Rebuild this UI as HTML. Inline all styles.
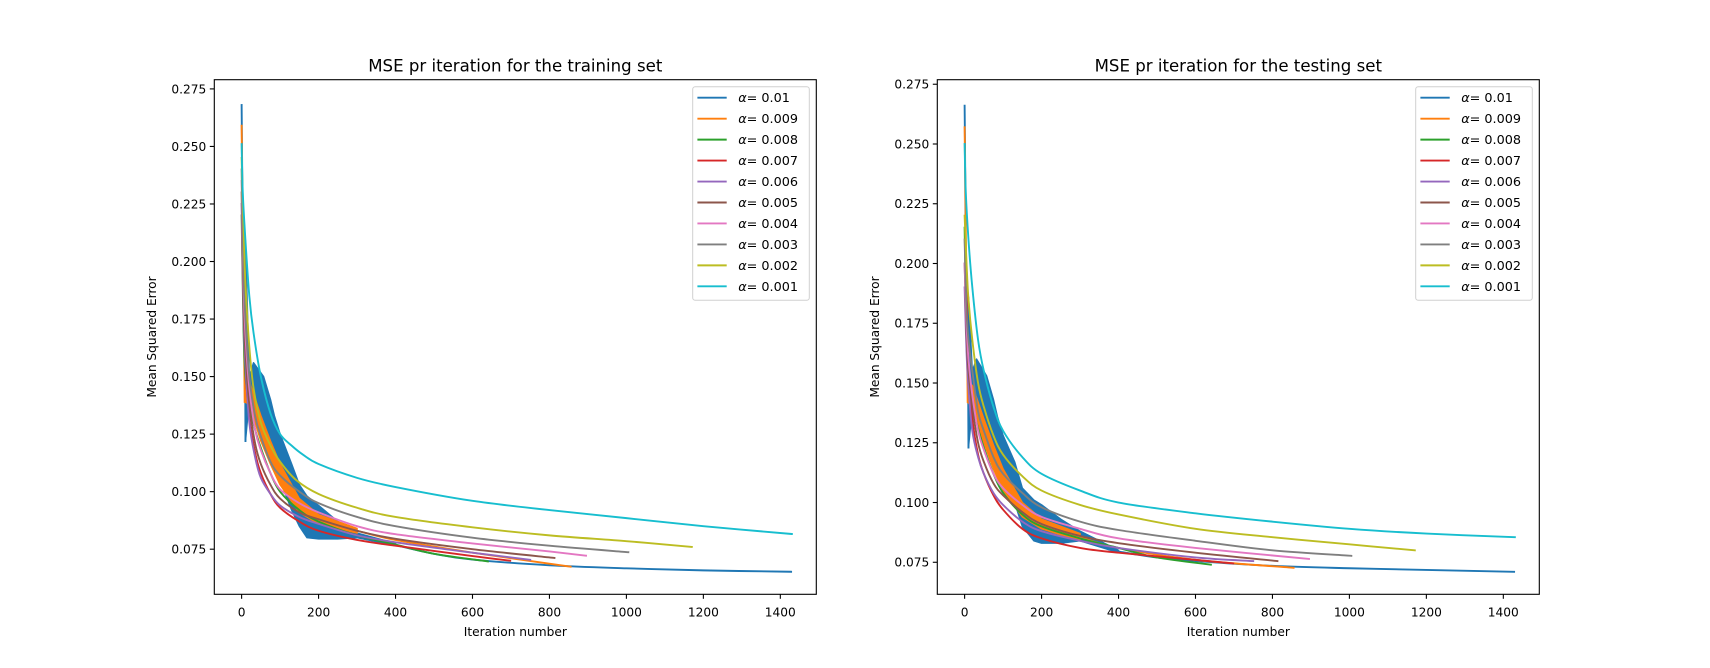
<!DOCTYPE html>
<html><head><meta charset="utf-8"><style>
html,body{margin:0;padding:0;background:#fff;}
svg{display:block;font-family:"DejaVu Sans","Liberation Sans",sans-serif;}
</style></head><body>
<svg id="fig" width="1710" height="668" viewBox="0 0 1710 668" xmlns="http://www.w3.org/2000/svg"></svg>
<script>
// ---------- data: training set ----------
const trX1 = [0,1,3,8,10];            const trY1 = [0.268,0.25,0.20,0.208,0.122];
const trBandX1 = [10,20,31,57,75,85,100,130,150,170,200,250,300,400];
const trHi1 = [0.208,0.150,0.156,0.150,0.140,0.133,0.125,0.112,0.103,0.098,0.094,0.087,0.082,0.0775];
const trLo1 = [0.122,0.140,0.135,0.128,0.118,0.112,0.105,0.092,0.085,0.080,0.0795,0.0795,0.080,0.0765];
const trTailX1 = [400,500,600,800,1000,1200,1428]; const trTailY1 = [0.0768,0.073,0.0705,0.068,0.0667,0.0658,0.0652];
const trX2 = [0,8];                    const trY2 = [0.259,0.139];
const trBandX2 = [8,20,50,75,100,150,200,300];
const trHi2 = [0.150,0.148,0.133,0.122,0.112,0.097,0.090,0.084];
const trLo2 = [0.139,0.138,0.122,0.112,0.103,0.091,0.086,0.082];
const trTailX2 = [300,400,600,855];     const trTailY2 = [0.083,0.079,0.0735,0.0674];
const trX3 = [0,5,10,20,35,50,75,100,150,200,300,400,500,640]; const trY3 = [0.22,0.17,0.15,0.138,0.127,0.119,0.108,0.100,0.092,0.087,0.081,0.077,0.073,0.0697];
const trX4 = [5,10,20,35,50,75,100,150,200,300,400,600,698]; const trY4 = [0.20,0.155,0.132,0.117,0.108,0.099,0.093,0.087,0.083,0.079,0.0765,0.072,0.070];
const trX5 = [0,5,10,20,35,50,75,100,150,200,300,400,600,750]; const trY5 = [0.225,0.175,0.155,0.13,0.115,0.106,0.099,0.094,0.089,0.086,0.081,0.078,0.0735,0.0704];
const trX6 = [0,5,10,20,35,50,75,100,150,200,300,400,600,813]; const trY6 = [0.23,0.18,0.16,0.138,0.121,0.112,0.103,0.097,0.091,0.088,0.083,0.0795,0.075,0.0712];
const trX7 = [0,5,10,20,35,50,75,100,150,200,300,400,600,800,895]; const trY7 = [0.235,0.19,0.168,0.145,0.127,0.118,0.108,0.101,0.095,0.091,0.085,0.0815,0.0775,0.074,0.0722];
const trX8 = [0,5,10,20,35,50,75,100,150,200,300,400,600,800,1005]; const trY8 = [0.24,0.195,0.175,0.15,0.133,0.124,0.113,0.107,0.100,0.095,0.089,0.085,0.080,0.0765,0.0737];
const trX9 = [0,5,10,20,31,50,75,100,142,200,300,400,600,800,1000,1170]; const trY9 = [0.245,0.215,0.19,0.163,0.145,0.13,0.12,0.113,0.105,0.099,0.093,0.089,0.0845,0.081,0.0785,0.076];
const trX10 = [0,3,10,20,31,50,75,100,130,160,200,300,400,600,800,1000,1200,1430]; const trY10 = [0.251,0.23,0.209,0.185,0.169,0.15,0.134,0.125,0.12,0.116,0.112,0.106,0.102,0.096,0.092,0.0885,0.085,0.0816];
// ---------- data: testing set ----------
const teX1 = [0,1,3,8,10];            const teY1 = [0.266,0.25,0.20,0.186,0.123];
const teBandX1 = [10,20,31,57,75,85,100,130,150,180,200,250,300,400];
const teHi1 = [0.186,0.155,0.160,0.153,0.143,0.136,0.128,0.117,0.106,0.101,0.099,0.093,0.088,0.080];
const teLo1 = [0.123,0.140,0.137,0.130,0.121,0.116,0.110,0.100,0.090,0.084,0.083,0.083,0.084,0.079];
const teTailX1 = [400,500,600,800,1000,1200,1428]; const teTailY1 = [0.0795,0.077,0.0755,0.0735,0.0725,0.0718,0.071];
const teX2 = [0,8];                    const teY2 = [0.257,0.142];
const teBandX2 = [8,20,50,75,100,150,200,300];
const teHi2 = [0.150,0.149,0.135,0.124,0.114,0.100,0.093,0.087];
const teLo2 = [0.142,0.140,0.125,0.114,0.105,0.094,0.089,0.084];
const teTailX2 = [300,400,600,855];     const teTailY2 = [0.0855,0.081,0.076,0.0727];
const teX3 = [0,5,10,20,35,50,75,100,150,200,300,400,500,640]; const teY3 = [0.215,0.172,0.155,0.142,0.131,0.123,0.112,0.104,0.095,0.09,0.085,0.081,0.077,0.074];
const teX4 = [5,10,20,35,50,75,100,150,200,300,400,600,698]; const teY4 = [0.19,0.155,0.135,0.12,0.112,0.103,0.097,0.089,0.085,0.081,0.079,0.076,0.0745];
const teX5 = [0,5,10,20,35,50,75,100,150,200,300,400,600,750]; const teY5 = [0.19,0.163,0.148,0.13,0.119,0.112,0.104,0.099,0.092,0.088,0.084,0.081,0.077,0.0755];
const teX6 = [0,5,10,20,35,50,75,100,150,200,300,400,600,813]; const teY6 = [0.20,0.17,0.155,0.14,0.125,0.117,0.108,0.103,0.096,0.091,0.086,0.083,0.079,0.0755];
const teX7 = [0,5,10,20,35,50,75,100,150,200,300,400,600,895]; const teY7 = [0.20,0.175,0.16,0.145,0.13,0.122,0.112,0.106,0.099,0.094,0.089,0.085,0.081,0.0764];
const teX8 = [0,5,10,20,35,50,75,100,150,200,300,400,600,800,1005]; const teY8 = [0.21,0.18,0.168,0.155,0.138,0.13,0.119,0.112,0.104,0.098,0.092,0.0885,0.084,0.080,0.0777];
const teX9 = [0,5,10,20,35,50,75,100,150,200,300,400,600,800,1000,1170]; const teY9 = [0.22,0.2,0.185,0.168,0.15,0.14,0.128,0.12,0.111,0.105,0.099,0.095,0.089,0.0855,0.0825,0.080];
const teX10 = [0,3,10,20,35,50,75,100,150,200,300,400,600,800,1000,1200,1430]; const teY10 = [0.25,0.23,0.21,0.19,0.168,0.155,0.14,0.13,0.119,0.112,0.105,0.10,0.0955,0.092,0.089,0.087,0.0855];

const labels = ["0.01","0.009","0.008","0.007","0.006","0.005","0.004","0.003","0.002","0.001"];
const colors = ["#1f77b4","#ff7f0e","#2ca02c","#d62728","#9467bd","#8c564b","#e377c2","#7f7f7f","#bcbd22","#17becf"];
const xTicks = [0,200,400,600,800,1000,1200,1400];
const yTicks = [0.075,0.100,0.125,0.150,0.175,0.200,0.225,0.250,0.275];

const NS = "http://www.w3.org/2000/svg";
const svg = document.getElementById('fig');
function mk(tag, attrs, parent){const e=document.createElementNS(NS,tag);for(const k in attrs)e.setAttribute(k,attrs[k]);(parent||svg).appendChild(e);return e;}
function smooth(P){
  if(P.length<3) return 'M'+P.map(p=>p[0].toFixed(2)+','+p[1].toFixed(2)).join(' L');
  let d='M'+P[0][0].toFixed(2)+','+P[0][1].toFixed(2);
  for(let i=0;i<P.length-1;i++){
    const p0=P[i-1]||P[i], p1=P[i], p2=P[i+1], p3=P[i+2]||P[i+1];
    let c1=[p1[0]+(p2[0]-p0[0])/6, p1[1]+(p2[1]-p0[1])/6];
    let c2=[p2[0]-(p3[0]-p1[0])/6, p2[1]-(p3[1]-p1[1])/6];
    const lo=Math.min(p1[1],p2[1]), hi=Math.max(p1[1],p2[1]);
    c1[1]=Math.min(hi,Math.max(lo,c1[1])); c2[1]=Math.min(hi,Math.max(lo,c2[1]));
    d+=' C'+c1[0].toFixed(2)+','+c1[1].toFixed(2)+' '+c2[0].toFixed(2)+','+c2[1].toFixed(2)+' '+p2[0].toFixed(2)+','+p2[1].toFixed(2);
  }
  return d;
}

function drawPanel(p){
  const g = mk('g',{});
  
  
  const xs = v => p.x0 + (v - p.xmin)/(p.xmax - p.xmin)*(p.x1 - p.x0);
  const ys = v => p.y1 - (v - p.ymin)/(p.ymax - p.ymin)*(p.y1 - p.y0);
  const P = (X,Y) => X.map((x,i)=>[xs(x),ys(Y[i])]);
  const pts = (X,Y) => X.map((x,i)=>xs(x).toFixed(2)+','+ys(Y[i]).toFixed(2)).join(' ');
  const clip = mk('clipPath',{id:p.name+'-clip'},g);
  mk('rect',{x:p.x0,y:p.y0,width:p.x1-p.x0,height:p.y1-p.y0},clip);
  const plot = mk('g',{'clip-path':'url(#'+p.name+'-clip)'},g);
  p.series.forEach((s,i)=>{
    const sg = mk('g',{},plot);
    
    
    const st = {fill:'none',stroke:colors[i],'stroke-width':1.9,'stroke-linejoin':'round','stroke-linecap':'square'};
    if(s.bx){
      mk('polyline',Object.assign({points:pts(s.x,s.y)},st),sg);
      const poly = pts(s.bx,s.hi)+' '+pts(s.bx.slice().reverse(),s.lo.slice().reverse());
      mk('polygon',{points:poly,fill:colors[i],stroke:colors[i],'stroke-width':1.5,'stroke-linejoin':'round'},sg);
      mk('path',Object.assign({d:smooth(P(s.tx,s.ty))},st),sg);
    } else {
      mk('path',Object.assign({d:smooth(P(s.x,s.y))},st),sg);
    }
  });
  mk('rect',{x:p.x0,y:p.y0,width:p.x1-p.x0,height:p.y1-p.y0,fill:'none',stroke:'#000','stroke-width':1.1},g);
  xTicks.forEach(t=>{
    const X = xs(t);
    const tk = mk('line',{x1:X,x2:X,y1:p.y1,y2:p.y1+4.5,stroke:'#000','stroke-width':1.1},g);
    
    
    const tl = mk('text',{x:X,y:p.y1+22,'text-anchor':'middle','font-size':12.2,fill:'#000'},g);
    tl.textContent = t;
    
    
  });
  yTicks.forEach(t=>{
    const Y = ys(t);
    mk('line',{x1:p.x0-4.5,x2:p.x0,y1:Y,y2:Y,stroke:'#000','stroke-width':1.1},g);
    const tl = mk('text',{x:p.x0-8,y:Y+4.4,'text-anchor':'end','font-size':12.2,fill:'#000'},g);
    tl.textContent = t.toFixed(3);
    
    
  });
  const title = mk('text',{x:(p.x0+p.x1)/2,y:71.7,'text-anchor':'middle','font-size':16.6,fill:'#000'},g);
  title.textContent = p.title;
  
  
  const xl = mk('text',{x:(p.x0+p.x1)/2,y:636,'text-anchor':'middle','font-size':12.2,fill:'#000'},g);
  xl.textContent = 'Iteration number';
  
  
  const yc = (p.y0+p.y1)/2;
  const yl = mk('text',{x:p.ylabX,y:yc,'text-anchor':'middle','font-size':12.2,fill:'#000',transform:'rotate(-90 '+p.ylabX+' '+yc+')'},g);
  yl.textContent = 'Mean Squared Error';
  
  
  const lg = mk('g',{},g);
  
  
  const lx = p.x1-123.6, ly = p.y0+7;
  mk('rect',{x:lx,y:ly,width:116.6,height:213.6,rx:2.5,fill:'#fff','fill-opacity':0.8,stroke:'#d0d0d0','stroke-width':1},lg);
  labels.forEach((lab,i)=>{
    const y = ly+11+i*20.96;
    const e = mk('g',{},lg);
    
    
    mk('line',{x1:lx+4.7,x2:lx+34,y1:y,y2:y,stroke:colors[i],'stroke-width':1.9},e);
    const t = mk('text',{x:lx+45.5,y:y+4.5,'font-size':12.8,fill:'#000'},e);
    const a = mk('tspan',{'font-style':'italic'},t); a.textContent='α';
    const b = mk('tspan',{},t); b.textContent='= '+lab;
  });
}

const trSeries = [
 {x:trX1,y:trY1,bx:trBandX1,hi:trHi1,lo:trLo1,tx:trTailX1,ty:trTailY1},
 {x:trX2,y:trY2,bx:trBandX2,hi:trHi2,lo:trLo2,tx:trTailX2,ty:trTailY2},
 {x:trX3,y:trY3},{x:trX4,y:trY4},{x:trX5,y:trY5},{x:trX6,y:trY6},
 {x:trX7,y:trY7},{x:trX8,y:trY8},{x:trX9,y:trY9},{x:trX10,y:trY10}];
const teSeries = [
 {x:teX1,y:teY1,bx:teBandX1,hi:teHi1,lo:teLo1,tx:teTailX1,ty:teTailY1},
 {x:teX2,y:teY2,bx:teBandX2,hi:teHi2,lo:teLo2,tx:teTailX2,ty:teTailY2},
 {x:teX3,y:teY3},{x:teX4,y:teY4},{x:teX5,y:teY5},{x:teX6,y:teY6},
 {x:teX7,y:teY7},{x:teX8,y:teY8},{x:teX9,y:teY9},{x:teX10,y:teY10}];

drawPanel({name:'training-chart',title:'MSE pr iteration for the training set',x0:214.3,x1:816.3,y0:79.7,y1:594.3,
  xmin:-71,xmax:1493.5,ymin:0.0554,ymax:0.2790,ylabX:156,series:trSeries});
drawPanel({name:'testing-chart',title:'MSE pr iteration for the testing set',x0:937.3,x1:1539.3,y0:79.7,y1:594.3,
  xmin:-71,xmax:1493.5,ymin:0.0616,ymax:0.2769,ylabX:879,series:teSeries});
</script>
</body></html>
